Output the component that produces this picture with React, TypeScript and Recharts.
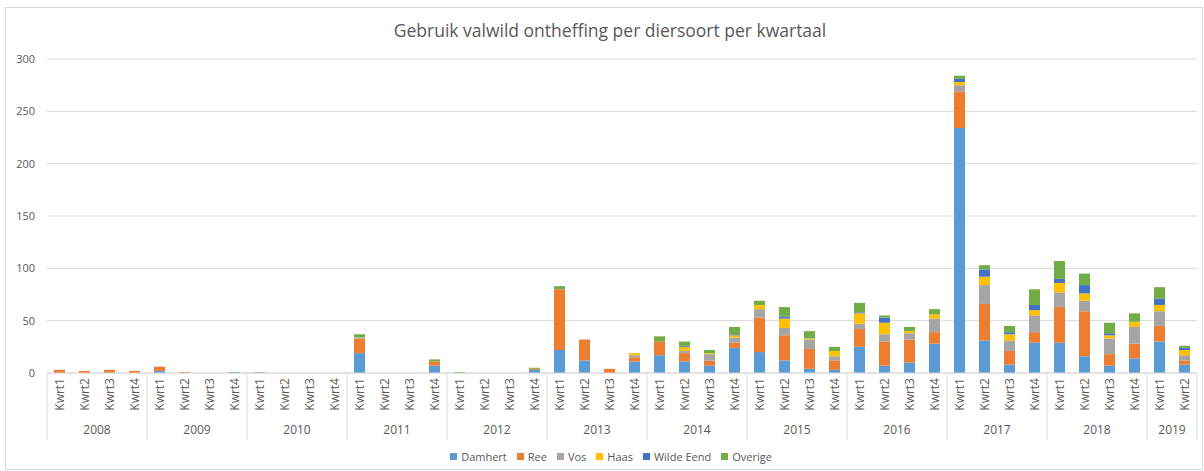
import React from "react";
import { BarChart, Bar, XAxis, YAxis, CartesianGrid, Legend } from "recharts";

const years = [
  "2008","2008","2008","2008",
  "2009","2009","2009","2009",
  "2010","2010","2010","2010",
  "2011","2011","2011","2011",
  "2012","2012","2012","2012",
  "2013","2013","2013","2013",
  "2014","2014","2014","2014",
  "2015","2015","2015","2015",
  "2016","2016","2016","2016",
  "2017","2017","2017","2017",
  "2018","2018","2018","2018",
  "2019","2019",
];
const quarterLabels = ["Kwrt1", "Kwrt2", "Kwrt3", "Kwrt4"];
const quarters = years.map((_, i) => quarterLabels[i % 4]);

const damhert = [0,0,0,0, 2,0,0,1, 0,0,0,0, 19,0,0,7, 0,0,0,3, 22,12,0,11, 17,11,7,24, 20,12,4,3, 25,7,10,28, 234,31,8,29, 29,16,7,14, 30,8];
const ree =     [3,2,3,2, 4,1,0,0, 0,0,0,0, 14,0,0,4, 0,0,0,1, 58,20,4,4, 13,8,5,5, 33,24,19,9, 17,23,22,11, 35,35,13,10, 34,43,11,14, 15,4];
const vos =     [0,0,0,0, 0,0,0,0, 1,0,0,0, 1,0,0,0, 0,0,0,0, 0,0,0,2, 0,2,6,5, 8,7,9,4, 5,7,6,13, 6,18,10,16, 14,10,15,16, 14,5];
const haas =    [0,0,0,0, 0,0,0,0, 0,0,0,0, 0,0,0,0, 0,0,0,0, 0,0,0,2, 0,4,1,2, 4,9,1,5, 10,11,2,4, 3,8,6,5, 9,7,3,5, 6,5];
const wildeEend=[0,0,0,0, 0,0,0,0, 0,0,0,0, 0,0,0,0, 0,0,0,0, 0,0,0,0, 0,1,0,1, 0,2,0,0, 1,5,0,0, 3,7,2,5, 4,8,2,0, 6,2];
const overige = [0,0,0,0, 0,0,0,0, 0,0,0,0, 3,0,0,2, 1,0,0,1, 3,0,0,0, 5,4,3,7, 4,9,7,4, 9,2,4,5, 3,4,6,15, 17,11,10,8, 11,2];

const yTicks = [0, 50, 100, 150, 200, 250, 300];

const series = [
  { key: "Damhert", values: damhert, color: "#5B9BD5" },
  { key: "Ree", values: ree, color: "#ED7D31" },
  { key: "Vos", values: vos, color: "#A5A5A5" },
  { key: "Haas", values: haas, color: "#FFC000" },
  { key: "Wilde Eend", values: wildeEend, color: "#4472C4" },
  { key: "Overige", values: overige, color: "#70AD47" },
];

const data = years.map((y, i) => {
  const row: Record<string, any> = { year: y, q: quarters[i], idx: i };
  series.forEach((s) => (row[s.key] = s.values[i]));
  return row;
});

const FONT = "'Open Sans', 'Liberation Sans', sans-serif";
const TXT = "#595959";
const GRID = "#d9d9d9";

const CategoryTick = (props: any) => {
  const { x, y, payload } = props;
  const i = payload.index;
  const half = payload.offset || 12.5;
  const w = half * 2;
  const y0 = y;
  const yr = years[i];
  const isFirst = i === 0 || years[i - 1] !== yr;
  const isLast = i === years.length - 1;
  let groupCount = 0;
  if (isFirst) {
    for (let j = i; j < years.length && years[j] === yr; j++) groupCount++;
  }
  return (
    <g>
      <text
        transform={`translate(${x},${y0 + 5}) rotate(-90)`}
        textAnchor="end"
        dominantBaseline="central"
        fontSize={12}
        fontFamily={FONT}
        fill={TXT}
      >
        {quarters[i]}
      </text>
      {isFirst && (
        <line x1={x - half} x2={x - half} y1={y0} y2={y0 + 67} stroke={GRID} strokeWidth={1} />
      )}
      {isLast && (
        <line x1={x + half} x2={x + half} y1={y0} y2={y0 + 67} stroke={GRID} strokeWidth={1} />
      )}
      {isFirst && (
        <text
          x={x - half + (groupCount * w) / 2}
          y={y0 + 61}
          textAnchor="middle"
          fontSize={12}
          fontFamily={FONT}
          fill={TXT}
        >
          {yr}
        </text>
      )}
    </g>
  );
};

const LegendContent = () => (
  <div
    style={{
      display: "flex",
      justifyContent: "center",
      gap: 10,
      fontFamily: FONT,
      fontSize: 11,
      color: TXT,
      width: 1204,
      paddingLeft: 18,
      boxSizing: "border-box",
    }}
  >
    {series.map((s) => (
      <div key={s.key} style={{ display: "flex", alignItems: "center" }}>
        <span style={{ width: 7, height: 7, background: s.color, display: "inline-block", marginRight: 4 }} />
        <span>{s.key}</span>
      </div>
    ))}
  </div>
);

export default function App() {
  return (
    <div style={{ position: "absolute", left: 0, top: 0, width: 1204, height: 471, background: "#fff" }}>
      <div
        style={{
          position: "absolute",
          left: 5,
          top: 7,
          width: 1198,
          height: 463,
          border: `1px solid ${GRID}`,
          boxSizing: "border-box",
        }}
      />
      <div
        style={{
          position: "absolute",
          left: 0,
          top: 18,
          width: 1220,
          textAlign: "center",
          fontFamily: FONT,
          fontSize: 17.5,
          color: TXT,
        }}
      >
        Gebruik valwild ontheffing per diersoort per kwartaal
      </div>
      <BarChart
        width={1204}
        height={471}
        data={data}
        margin={{ top: 59, right: 7, bottom: 0, left: 0 }}
        barSize={11}
      >
        <CartesianGrid vertical={false} stroke={GRID} />
        <XAxis
          dataKey="q"
          interval={0}
          tickLine={false}
          axisLine={{ stroke: GRID }}
          tickSize={0}
          tickMargin={0}
          tick={<CategoryTick />}
          height={98}
        />
        <YAxis
          domain={[0, 300]}
          ticks={yTicks}
          width={47}
          axisLine={false}
          tickLine={false}
          tickMargin={6}
          tick={{ fontSize: 11, fill: TXT, fontFamily: FONT }}
        />
        <Legend
          content={<LegendContent />}
          wrapperStyle={{ top: 449, left: 0, width: 1204, height: 0 }}
        />
        {series.map((s) => (
          <Bar key={s.key} dataKey={s.key} stackId="a" fill={s.color} isAnimationActive={false} />
        ))}
      </BarChart>
    </div>
  );
}
